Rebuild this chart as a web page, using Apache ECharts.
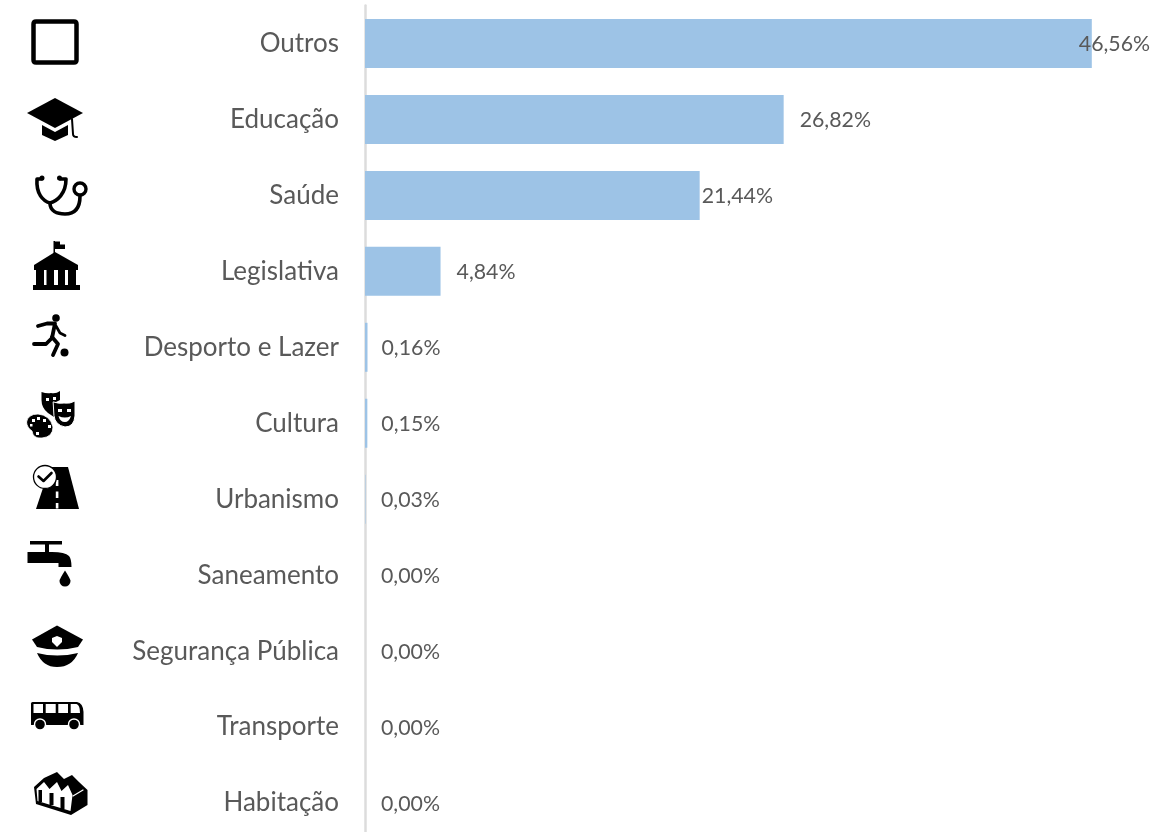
<!DOCTYPE html>
<html><head><meta charset="utf-8">
<style>html,body{margin:0;padding:0;background:#fff;overflow:hidden;height:832px}#c{width:1155px;height:841px}</style>
<script src="https://cdn.jsdelivr.net/npm/echarts@6/dist/echarts.min.js"></script>
</head><body><div id="c"></div>
<script>
const categories = ["Outros","Educação","Saúde","Legislativa","Desporto e Lazer","Cultura","Urbanismo","Saneamento","Segurança Pública","Transporte","Habitação"];
const shares = [46.56,26.82,21.44,4.84,0.16,0.15,0.03,0,0,0,0];
const labelGaps = [-13,16,2,16,14,14,15.5,16,16,16,16];

const K='#000', W='#fff';
const icons = [
 {d:'M36 21.5H74Q76.5 21.5 76.5 24V60Q76.5 62.5 74 62.5H36Q33.5 62.5 33.5 60V24Q33.5 21.5 36 21.5Z',stroke:K,lw:4.5},
 {d:'M27 113L55 98L83 113L55 128Z',fill:K},
 {d:'M42 125L55 132L68 125V135L55 141L42 135Z',fill:K},
 {d:'M72 119L73 134Q73 137 77 137',stroke:K,lw:2},
 {d:'M42 179H37C36 194 43 201 50 203C57 201 66 194 66 179H60',stroke:K,lw:3.6},
 {d:'M50 203C50 211 57 214 65 214C75 214 80 208 80 196',stroke:K,lw:3.6},
 {d:'M86 189A6 6 0 1 1 74 189A6 6 0 1 1 86 189Z',stroke:K,lw:3.4},
 {d:'M44.5 178A2.5 2.5 0 1 1 39.5 178A2.5 2.5 0 1 1 44.5 178ZM62 178A2.5 2.5 0 1 1 57 178A2.5 2.5 0 1 1 62 178Z',fill:K},
 {d:'M53.5 241H55V254H53.5ZM55 241.5H60V244.5H65V249H55Z',fill:K},
 {d:'M34 265L55 252L78 265V270H34Z',fill:K},
 {d:'M36 270H44V285H36ZM46.5 270H54V285H46.5ZM58 270H65V285H58ZM68 270H76V285H68Z',fill:K},
 {d:'M33 285H80V290H33Z',fill:K},
 {d:'M59.8 318A3.8 3.8 0 1 1 52.2 318A3.8 3.8 0 1 1 59.8 318Z',fill:K},
 {d:'M68.5 352.5A4 4 0 1 1 60.5 352.5A4 4 0 1 1 68.5 352.5Z',fill:K},
 {d:'M38 326L47 323.5H55L52 338L46 344H34',stroke:K,lw:3.8},
 {d:'M52 337L58 344L53 355',stroke:K,lw:3.8},
 {d:'M56 326L60 333L65 335.5',stroke:K,lw:2.8},
 {d:'M41.5 392Q47 394 51 393Q56 394 60 391V400L54 403V417L48 413Q41.5 408 41.5 400Z',fill:K},
 {d:'M46 398H49V401H46ZM53 397H56V400H53Z',fill:W},
 {d:'M53.5 402Q59 404 64 403Q70 404 75 401V416Q74 427 65 427Q55 425 54 416Z',fill:K,stroke:W,lw:1},
 {d:'M58 409H62V412H58ZM67 409H71V412H67ZM58.5 416Q65 419 71 416Q69 422 65 422Q60 422 58.5 416Z',fill:W},
 {d:'M26.5 422Q28 414 38 414Q50 415 53 427Q53 437 42 438Q33 439 32 431Q27 428 26.5 422Z',fill:K,stroke:W,lw:.8},
 {d:'M32 419H35V422H32ZM37 417H40V420H37ZM43 419H46V422H43ZM48 425H51V428H48ZM36 432H39V435H36ZM30 424H32.5V426.5H30Z',fill:W},
 {d:'M36 509L50 467H68L79 509Z',fill:K},
 {d:'M55.8 480H58.4V486H55.8ZM55.8 491.5H58.4V498H55.8ZM55.8 503H58.4V508.5H55.8Z',fill:W},
 {d:'M56.5 477A11.5 11.5 0 1 1 33.5 477A11.5 11.5 0 1 1 56.5 477Z',fill:W,stroke:K,lw:1.3},
 {d:'M38.5 476.5L43.5 481L51.5 473',stroke:K,lw:2.6},
 {d:'M30 541H62V544.5H30Z',fill:K},
 {d:'M45 542H49V552H45Z',fill:K},
 {d:'M27.5 552H52Q65 552 69 556Q71.5 559 71.5 567H58.5V563H27.5Z',fill:K},
 {d:'M65 570.5Q70.5 579 70.5 581A5.5 5.5 0 1 1 59.5 581Q59.5 579 65 570.5Z',fill:K},
 {d:'M32 639.5L57 625.5L83 639.5L78 647Q57 652 37 647Z',fill:K},
 {d:'M52 638L57 636L62 638V642L57 647L52 642Z',fill:W},
 {d:'M37 653Q57 658 78 653Q72 667 57 667Q43 667 37 653Z',fill:K},
 {d:'M32.5 702H77Q83 703 83.5 712V725H31V703.5Q31 702 32.5 702Z',fill:K},
 {d:'M33.5 704H43V713H33.5ZM45.7 704H55.7V713H45.7ZM58.3 704H68V713H58.3ZM70.7 704H76.5Q80 705 80 713H70.7Z',fill:W},
 {d:'M45.5 724.5A5.5 5.5 0 1 1 34.5 724.5A5.5 5.5 0 1 1 45.5 724.5ZM79.5 724.5A5.5 5.5 0 1 1 68.5 724.5A5.5 5.5 0 1 1 79.5 724.5Z',fill:K,stroke:W,lw:1.4},
 {d:'M34 787L44 778L57 772L64 779L72 775L79 782L87.5 790V805L71 815L36 804Z',fill:K},
 {d:'M36.5 789L44 782L49.5 789L57 782L61.5 791L68 785L72.5 795L70.5 811L37.5 801Z',fill:W},
 {d:'M38.5 790H42V802H38.5ZM49.5 793H53.5V805H49.5ZM60.5 797H64.5V809H60.5Z',fill:K},
 {d:'M73 796L83 790',stroke:W,lw:1.2}
];

echarts.graphic.registerShape('iconPath', echarts.graphic.extendShape({
  shape:{d:''},
  buildPath(ctx,s){ const p=echarts.graphic.makePath(s.d,{}); p.buildPath(ctx,p.shape); }
}));

const chart = echarts.init(document.getElementById('c'), null, {renderer:'canvas'});
chart.setOption({
  animation:false,
  backgroundColor:'#fff',
  grid:{left:365,top:5.5,right:9.5,bottom:0,containLabel:false},
  xAxis:{type:'value',min:0,max:50,show:false},
  yAxis:{type:'category',inverse:true,data:categories,
    axisLine:{show:true,onZero:false,lineStyle:{color:'#DCDCDC',width:2.5}},
    axisTick:{show:false},
    axisLabel:{margin:26,color:'#595959',fontFamily:'Lato',fontSize:26}},
  series:[{type:'bar',barWidth:49,itemStyle:{color:'#9DC3E6'},
    data:shares.map((v,i)=>({value:v,label:{distance:labelGaps[i]}})),
    label:{show:true,position:'right',offset:[0,1],color:'#595959',fontFamily:'Lato',fontSize:21.3,
      formatter:p=>p.value.toFixed(2).replace('.',',')+'%'}}],
  graphic:icons.map(p=>({type:'iconPath',silent:true,z:10,
    shape:{d:p.d},
    style:{fill:p.fill||'none',stroke:p.stroke||'none',lineWidth:p.lw||0,lineJoin:'round',lineCap:'round'}}))
});
</script></body></html>
